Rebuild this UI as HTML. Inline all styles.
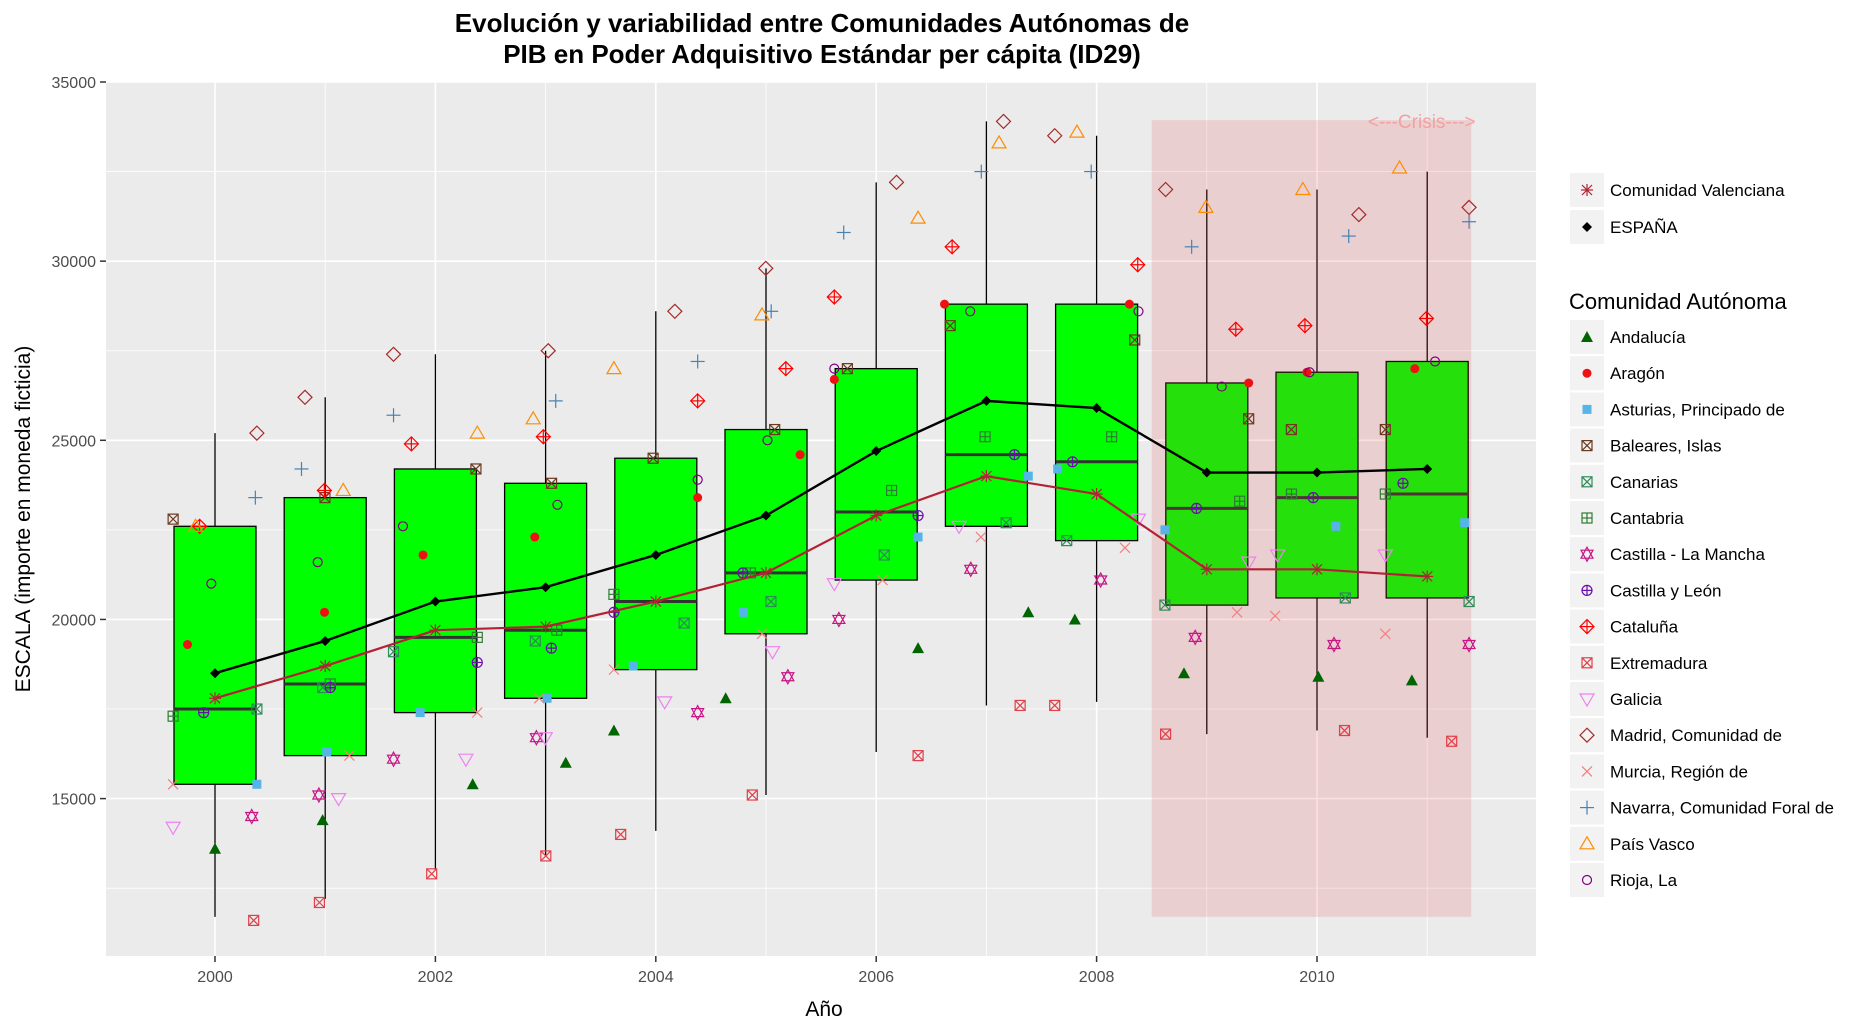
<!DOCTYPE html>
<html><head><meta charset="utf-8"><style>
body{margin:0;background:#fff;}
svg{display:block;font-family:"Liberation Sans",sans-serif;}
</style></head><body>
<svg id="s" width="1870" height="1022" xmlns="http://www.w3.org/2000/svg">
<rect width="1870" height="1022" fill="#fff"/>
<text x="822" y="32" font-size="26" font-weight="bold" text-anchor="middle">Evolución y variabilidad entre Comunidades Autónomas de</text>
<text x="822" y="63" font-size="26" font-weight="bold" text-anchor="middle">PIB en Poder Adquisitivo Estándar per cápita (ID29)</text>
<rect x="106" y="82" width="1430" height="874" fill="#ebebeb"/>
<g id="grid"></g>
<g id="boxes"></g>
<rect id="crisis" fill="rgb(230,60,70)" fill-opacity="0.16"/>
<g id="pts"></g>
<g id="lines"></g>
<g id="axes" font-size="16" fill="#4d4d4d"></g>
<text x="824" y="1016" font-size="21" text-anchor="middle">Año</text>
<text transform="translate(30,519) rotate(-90)" font-size="21" text-anchor="middle">ESCALA (importe en moneda ficticia)</text>
<g id="leg" font-size="17"></g>
</svg>
<script>
const NS="http://www.w3.org/2000/svg";
function el(p,t,a){const e=document.createElementNS(NS,t);for(const k in a)e.setAttribute(k,a[k]);document.getElementById(p).appendChild(e);return e;}
const X=y=>215+(y-2000)*110.2, Y=v=>82+(35000-v)*0.03583;
for(let v=12500;v<=35000;v+=2500){el('grid','line',{x1:106,x2:1536,y1:Y(v),y2:Y(v),stroke:'#fff','stroke-width':(v%5000?0.8:1.6)});}
for(let y=1999;y<=2012;y++){const x=X(y);if(x<106||x>1536)continue;el('grid','line',{x1:x,x2:x,y1:82,y2:956,stroke:'#fff','stroke-width':(y%2?0.8:1.6)});}
for(let v=15000;v<=35000;v+=5000){el('axes','line',{x1:100,x2:106,y1:Y(v),y2:Y(v),stroke:'#333','stroke-width':1.5});const t=el('axes','text',{x:96,y:Y(v)+6,'text-anchor':'end'});t.textContent=v;}
for(let y=2000;y<=2010;y+=2){el('axes','line',{x1:X(y),x2:X(y),y1:956,y2:962,stroke:'#333','stroke-width':1.5});const t=el('axes','text',{x:X(y),y:982,'text-anchor':'middle'});t.textContent=y;}
const B=[[15400,22600,17500,11700,25200],[16200,23400,18200,12200,26200],[17400,24200,19500,13000,27400],[17800,23800,19700,13400,27500],[18600,24500,20500,14100,28600],[19600,25300,21300,15100,29800],[21100,27000,23000,16300,32200],[22600,28800,24600,17600,33900],[22200,28800,24400,17700,33500],[20400,26600,23100,16800,32000],[20600,26900,23400,16900,32000],[20600,27200,23500,16700,32500]];
B.forEach((b,i)=>{const x=X(2000+i),w=41;
el('boxes','line',{x1:x,x2:x,y1:Y(b[4]),y2:Y(b[3]),stroke:'#000','stroke-width':1.3});
el('boxes','rect',{x:x-w,y:Y(b[1]),width:2*w,height:Y(b[0])-Y(b[1]),fill:'#00ff00',stroke:'#000','stroke-width':1.3});
el('boxes','line',{x1:x-w,x2:x+w,y1:Y(b[2]),y2:Y(b[2]),stroke:'#333','stroke-width':3});});
const c=document.getElementById('crisis');c.setAttribute('x',X(2008.5));c.setAttribute('width',X(2011.4)-X(2008.5));c.setAttribute('y',Y(33935));c.setAttribute('height',Y(11700)-Y(33935));
{const t=el('pts','text',{x:X(2010.95),y:Y(33935)+8,'font-size':19,fill:'#f4a0a0','text-anchor':'middle'});t.textContent='<---Crisis--->';}
function shape(g,s,x,y,col){const st={stroke:col,fill:'none','stroke-width':1.2};
const P=pts=>el(g,'polygon',Object.assign({points:pts.map(p=>p.join(',')).join(' ')},st));
const L=(a,b,c2,d)=>el(g,'line',Object.assign({x1:a,y1:b,x2:c2,y2:d},st));
switch(s){
case 'tri':el(g,'polygon',{points:`${x},${y-6} ${x-6},${y+5} ${x+6},${y+5}`,fill:col});break;
case 'dot':el(g,'circle',{cx:x,cy:y,r:4.5,fill:col});break;
case 'sq':el(g,'rect',{x:x-4.5,y:y-4.5,width:9,height:9,fill:col});break;
case 'sqx':el(g,'rect',Object.assign({x:x-5,y:y-5,width:10,height:10},st));L(x-5,y-5,x+5,y+5);L(x-5,y+5,x+5,y-5);break;
case 'sqp':el(g,'rect',Object.assign({x:x-5,y:y-5,width:10,height:10},st));L(x-5,y,x+5,y);L(x,y-5,x,y+5);break;
case 'star':P([[x,y-7],[x-6,y+4],[x+6,y+4]]);P([[x,y+7],[x-6,y-4],[x+6,y-4]]);break;
case 'cp':el(g,'circle',Object.assign({cx:x,cy:y,r:5},st));L(x-5,y,x+5,y);L(x,y-5,x,y+5);break;
case 'dp':P([[x,y-7],[x+7,y],[x,y+7],[x-7,y]]);L(x-7,y,x+7,y);L(x,y-7,x,y+7);break;
case 'tdown':P([[x-7,y-5],[x+7,y-5],[x,y+7]]);break;
case 'dia':P([[x,y-7],[x+7,y],[x,y+7],[x-7,y]]);break;
case 'x':L(x-5,y-5,x+5,y+5);L(x-5,y+5,x+5,y-5);break;
case 'plus':L(x-7,y,x+7,y);L(x,y-7,x,y+7);break;
case 'tup':P([[x,y-7],[x-7,y+5],[x+7,y+5]]);break;
case 'circ':el(g,'circle',Object.assign({cx:x,cy:y,r:4.5},st));break;
case 'ast':L(x-6,y,x+6,y);L(x,y-6,x,y+6);L(x-5,y-5,x+5,y+5);L(x-5,y+5,x+5,y-5);break;
case 'ediam':el(g,'polygon',{points:`${x},${y-5} ${x+5},${y} ${x},${y+5} ${x-5},${y}`,fill:col});break;
}}
const R=[
['Andalucía','tri','#006400',[13600,14400,15400,16000,16900,17800,19200,20200,20000,18500,18400,18300]],
['Aragón','dot','#ee1111',[19300,20200,21800,22300,23400,24600,26700,28800,28800,26600,26900,27000]],
['Asturias, Principado de','sq','#56b4e9',[15400,16300,17400,17800,18700,20200,22300,24000,24200,22500,22600,22700]],
['Baleares, Islas','sqx','#6b3a1f',[22800,23400,24200,23800,24500,25300,27000,28200,27800,25600,25300,25300]],
['Canarias','sqx','#2e8b57',[17500,18100,19100,19400,19900,20500,21800,22700,22200,20400,20600,20500]],
['Cantabria','sqp','#2e7d32',[17300,18200,19500,19700,20700,21300,23600,25100,25100,23300,23500,23500]],
['Castilla - La Mancha','star','#c71585',[14500,15100,16100,16700,17400,18400,20000,21400,21100,19500,19300,19300]],
['Castilla y León','cp','#6a0dad',[17400,18100,18800,19200,20200,21300,22900,24600,24400,23100,23400,23800]],
['Cataluña','dp','#ff0000',[22600,23600,24900,25100,26100,27000,29000,30400,29900,28100,28200,28400]],
['Extremadura','sqx','#e0404a',[11600,12100,12900,13400,14000,15100,16200,17600,17600,16800,16900,16600]],
['Galicia','tdown','#ee82ee',[14200,15000,16100,16700,17700,19100,21000,22600,22800,21600,21800,21800]],
['Madrid, Comunidad de','dia','#a52a2a',[25200,26200,27400,27500,28600,29800,32200,33900,33500,32000,31300,31500]],
['Murcia, Región de','x','#f08080',[15400,16200,17400,17800,18600,19600,21100,22300,22000,20200,20100,19600]],
['Navarra, Comunidad Foral de','plus','#4682b4',[23400,24200,25700,26100,27200,28600,30800,32500,32500,30400,30700,31100]],
['País Vasco','tup','#ff8c00',[22600,23600,25200,25600,27000,28500,31200,33300,33600,31500,32000,32600]],
['Rioja, La','circ','#800080',[21000,21600,22600,23200,23900,25000,27000,28600,28600,26500,26900,27200]]];
R.forEach((r,k)=>r[3].forEach((v,i)=>{const j=0.38*Math.sin(k*12.9898+i*78.233)*Math.cos(k*3.1+i*1.7)*1.6;const jj=Math.max(-0.38,Math.min(0.38,j));shape('pts',r[1],X(2000+i+jj),Y(v),r[2]);}));
const E=[18500,19400,20500,20900,21800,22900,24700,26100,25900,24100,24100,24200];
const CV=[17800,18700,19700,19800,20500,21300,22900,24000,23500,21400,21400,21200];
el('lines','polyline',{points:CV.map((v,i)=>X(2000+i)+','+Y(v)).join(' '),fill:'none',stroke:'#b22234','stroke-width':2.2});
CV.forEach((v,i)=>shape('lines','ast',X(2000+i),Y(v),'#b22234'));
el('lines','polyline',{points:E.map((v,i)=>X(2000+i)+','+Y(v)).join(' '),fill:'none',stroke:'#000','stroke-width':2.4});
E.forEach((v,i)=>shape('lines','ediam',X(2000+i),Y(v),'#000'));
function item(y,s,col,lab){el('leg','rect',{x:1570,y:y-17,width:34,height:34,fill:'#f2f2f2'});shape('leg',s,1587,y,col);const t=el('leg','text',{x:1610,y:y+6});t.textContent=lab;}
item(190,'ast','#b22234','Comunidad Valenciana');item(227,'ediam','#000','ESPAÑA');
{const t=el('leg','text',{x:1569,y:309,'font-size':22});t.textContent='Comunidad Autónoma';}
R.forEach((r,k)=>item(337+k*36.2,r[1],r[2],r[0]));
</script>
</body></html>
